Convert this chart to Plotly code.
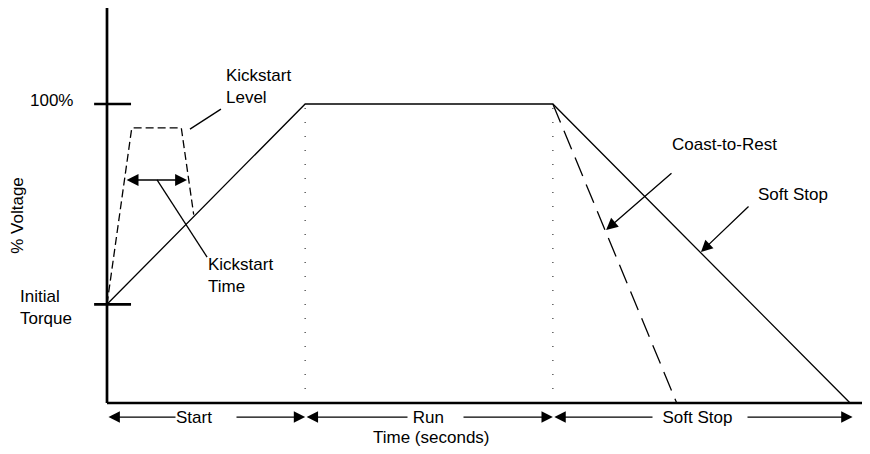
import plotly.graph_objects as go

# ---- data (time in s, voltage in %) ----
ramp_t = [0, 8, 18, 30]
ramp_v = [33, 100, 100, 0]
coast_t = [18, 23]
coast_v = [100, 0]
kick_t = [0, 1, 3, 3.5]
kick_v = [33, 92, 92, 63]
phase_edges = [0, 8, 18, 30.1]
phase_labels = ["Start", "Run", "Soft Stop"]
tick_levels = [100, 33]
tick_labels = ["100%", "Initial<br>Torque"]
kick_time_span = [0.73, 3.23]
kick_time_level = 74.6

FONT = "Liberation Sans, Arial, sans-serif"
FS = 17
BLK = "black"

# scale: 24.77 px per second, 2.99 px per percent; page body adds an 8px offset
PX_T = 24.77
PX_V = 2.99
W, H = 862, 446
X0, Y0 = 99, 395  # pixel position of (t=0, v=0) inside the figure

fig = go.Figure()

# dotted phase dividers
for t in phase_edges[1:3]:
    fig.add_trace(go.Scatter(x=[t, t], y=[0, 100], mode="lines",
                             line=dict(color="#444", width=1.3, dash="1px,13px"),
                             hoverinfo="skip"))

# main ramp / soft stop
fig.add_trace(go.Scatter(x=ramp_t, y=ramp_v, mode="lines",
                         line=dict(color=BLK, width=1.3), hoverinfo="skip"))
# coast to rest
fig.add_trace(go.Scatter(x=coast_t, y=coast_v, mode="lines",
                         line=dict(color=BLK, width=1.3, dash="20px,9px"), hoverinfo="skip"))
# kickstart
fig.add_trace(go.Scatter(x=kick_t, y=kick_v, mode="lines",
                         line=dict(color=BLK, width=1.3, dash="8px,4px"), hoverinfo="skip"))

# axes lines
fig.add_trace(go.Scatter(x=[0, 0], y=[0, 133], mode="lines",
                         line=dict(color=BLK, width=2.7), hoverinfo="skip"))
fig.add_trace(go.Scatter(x=[0, 30.72], y=[0, 0], mode="lines",
                         line=dict(color=BLK, width=2.7), hoverinfo="skip"))
# y ticks
for lv in tick_levels:
    fig.add_trace(go.Scatter(x=[-0.52, 0.97], y=[lv, lv], mode="lines",
                             line=dict(color=BLK, width=2.7), hoverinfo="skip"))

ann = []
# tick labels
ann.append(dict(x=-1.3, y=101.3, text=tick_labels[0], xanchor="right", yanchor="middle", showarrow=False))
ann.append(dict(x=-3.6, y=31.8, text=tick_labels[1], xanchor="left", yanchor="middle", align="left", showarrow=False))
ann.append(dict(x=-3.6, y=62.9, text="% Voltage", textangle=-90, xanchor="center", yanchor="middle", showarrow=False))

# kickstart level pointer (plain line)
fig.add_trace(go.Scatter(x=[3.35, 4.6], y=[91.6, 98.3], mode="lines",
                         line=dict(color=BLK, width=1.3), hoverinfo="skip"))
ann.append(dict(x=4.72, y=106, text="Kickstart<br>Level", xanchor="left", yanchor="middle", align="left", showarrow=False))

# kickstart time double arrow + pointer
ann.append(dict(x=kick_time_span[1], y=kick_time_level, ax=kick_time_span[0], ay=kick_time_level,
                axref="x", ayref="y", text="", showarrow=True, arrowhead=2, arrowside="end+start",
                arrowsize=1.7, arrowwidth=1.4, arrowcolor=BLK))
fig.add_trace(go.Scatter(x=[2.02, 4.04], y=[kick_time_level, 48.8], mode="lines",
                         line=dict(color=BLK, width=1.3), hoverinfo="skip"))
ann.append(dict(x=4.0, y=42.8, text="Kickstart<br>Time", xanchor="left", yanchor="middle", align="left", showarrow=False))

# coast-to-rest pointer
ann.append(dict(x=20.15, y=57.9, ax=22.85, ay=77.3, axref="x", ayref="y", text="", showarrow=True,
                arrowhead=2, arrowsize=1.8, arrowwidth=1.3, arrowcolor=BLK))
ann.append(dict(x=24.91, y=86.3, text="Coast-to-Rest", xanchor="center", yanchor="middle", showarrow=False))
# soft stop pointer
ann.append(dict(x=23.98, y=50.5, ax=25.96, ay=66.2, axref="x", ayref="y", text="", showarrow=True,
                arrowhead=2, arrowsize=1.8, arrowwidth=1.3, arrowcolor=BLK))
ann.append(dict(x=27.7, y=69.6, text="Soft Stop", xanchor="center", yanchor="middle", showarrow=False))

# phase arrows along time axis
ARR_V = -4.7
for i in range(3):
    ann.append(dict(x=phase_edges[i + 1], y=ARR_V, ax=phase_edges[i], ay=ARR_V, axref="x", ayref="y",
                    text="", showarrow=True, arrowhead=2, arrowside="end+start",
                    arrowsize=1.75, arrowwidth=1.3, arrowcolor=BLK))
gap_specs = [(2.75, "Start" + "&nbsp;" * 5), (12.11, "&nbsp;Run" + "&nbsp;" * 4),
             (22.0, "&nbsp;&nbsp;Soft Stop" + "&nbsp;" * 3)]
for (x0, txt) in gap_specs:
    ann.append(dict(x=x0, y=ARR_V, text=txt, xanchor="left", yanchor="middle", showarrow=False,
                    bgcolor="white", borderpad=0))
ann.append(dict(x=13.12, y=-11.6, text="Time (seconds)", xanchor="center", yanchor="middle", showarrow=False))

fig.update_layout(
    width=W, height=H,
    margin=dict(l=0, r=0, t=0, b=0),
    paper_bgcolor="white", plot_bgcolor="white",
    showlegend=False,
    font=dict(family=FONT, size=FS, color=BLK),
    xaxis=dict(range=[-X0 / PX_T, (W - X0) / PX_T], visible=False, fixedrange=True),
    yaxis=dict(range=[-(H - Y0) / PX_V, Y0 / PX_V], visible=False, fixedrange=True),
    annotations=ann,
)
fig.write_html("out.html")
